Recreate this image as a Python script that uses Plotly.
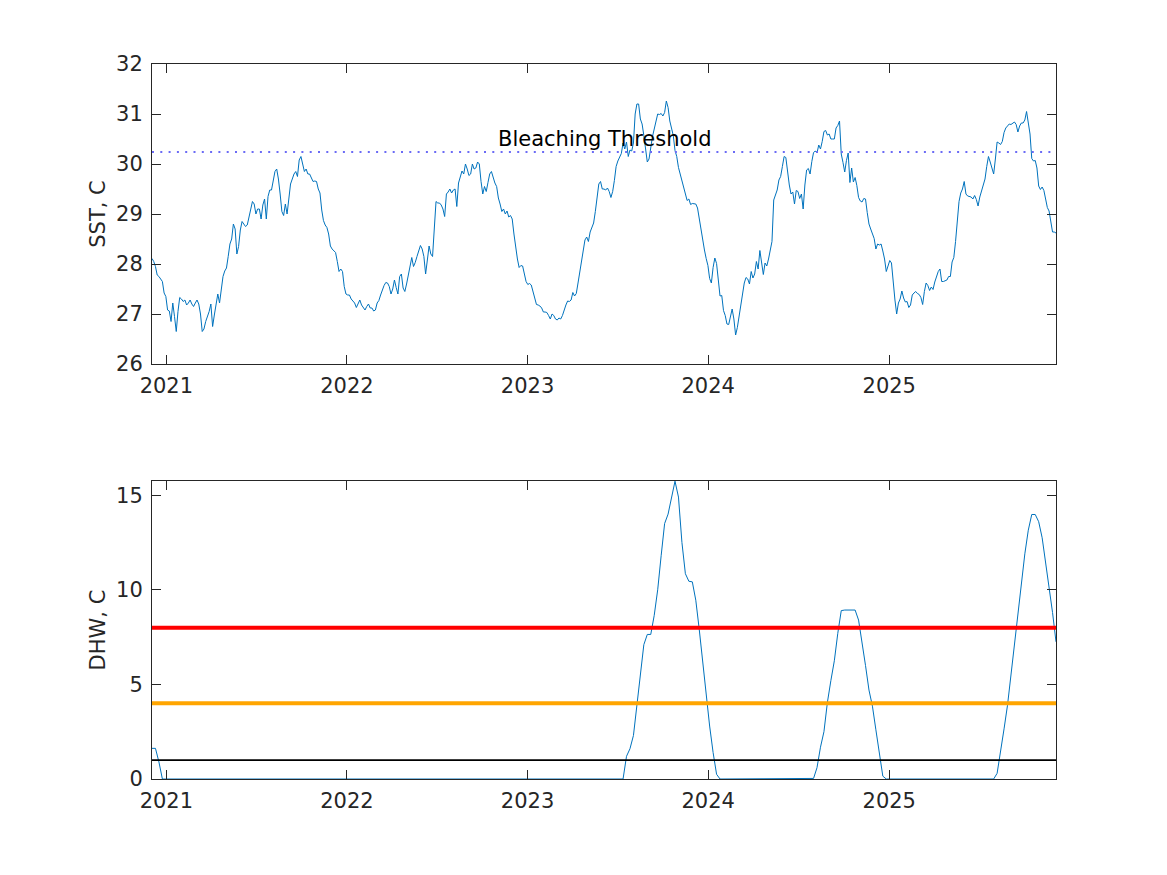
import numpy as np
import pandas as pd
import plotly.graph_objects as go

# ---------------- data ----------------
start_date = "2020-12-03"
sst_step_days = 3.5      # SST sampled twice a week
dhw_step_days = 7        # DHW sampled weekly

sst = [
    28.11, 28.05, 27.95, 27.78, 27.75, 27.7, 27.65, 27.42, 27.35, 27.08,
    27.06, 26.85, 27.22, 26.95, 26.65, 27.05, 27.33, 27.3, 27.25, 27.28,
    27.18, 27.22, 27.28, 27.2, 27.15, 27.22, 27.28, 27.2, 27.0, 26.65,
    26.7, 26.85, 26.95, 27.05, 27.2, 26.75, 26.98, 27.2, 27.4, 27.22,
    27.45, 27.75, 27.86, 27.92, 28.15, 28.4, 28.5, 28.8, 28.7, 28.2,
    28.35, 28.68, 28.85, 28.8, 28.75, 28.78, 28.95, 29.1, 29.25, 29.2,
    29.0, 29.1, 29.1, 28.9, 29.18, 29.3, 28.9, 29.35, 29.48, 29.48,
    29.68, 29.85, 29.9, 29.7, 29.4, 29.05, 28.97, 29.2, 29.0, 29.3,
    29.6, 29.7, 29.8, 29.85, 29.75, 30.08, 30.15, 30.0, 29.85, 29.9,
    29.8, 29.8, 29.72, 29.65, 29.66, 29.65, 29.5, 29.42, 29.08, 28.87,
    28.78, 28.73, 28.6, 28.36, 28.3, 28.27, 28.23, 28.05, 27.85, 27.9,
    27.85, 27.55, 27.4, 27.38, 27.38, 27.3, 27.25, 27.22, 27.13, 27.2,
    27.28, 27.18, 27.13, 27.08, 27.15, 27.2, 27.12, 27.12, 27.06, 27.08,
    27.22, 27.27, 27.38, 27.5, 27.57, 27.63, 27.62, 27.55, 27.4, 27.5,
    27.68, 27.53, 27.4, 27.75, 27.8, 27.52, 27.45, 27.6, 27.8, 28.0,
    28.13, 27.95, 28.03, 28.15, 28.25, 28.37, 28.3, 28.15, 27.8, 28.15,
    28.36, 28.2, 28.15, 28.7, 29.25, 29.22, 29.22, 29.18, 29.1, 28.95,
    29.4, 29.44, 29.5, 29.42, 29.48, 29.5, 29.15, 29.62, 29.77, 29.86,
    29.8, 30.0, 29.9, 29.77, 29.8, 30.0, 29.9, 29.92, 30.04, 30.0,
    29.65, 29.4, 29.55, 29.45, 29.63, 29.8, 29.85, 29.72, 29.62, 29.55,
    29.32, 29.2, 29.05, 29.1, 29.0, 29.06, 28.94, 28.97, 28.9, 28.6,
    28.32, 28.1, 27.93, 27.97, 27.96, 27.78, 27.65, 27.59, 27.61, 27.58,
    27.45, 27.32, 27.19, 27.18, 27.16, 27.12, 27.04, 27.04, 27.03, 26.97,
    26.9, 27.0, 26.97, 26.9, 26.88, 26.92, 26.9, 26.97, 27.1, 27.18,
    27.26, 27.25, 27.28, 27.43, 27.36, 27.41, 27.62, 27.86, 28.05, 28.27,
    28.48, 28.54, 28.45, 28.64, 28.73, 28.82, 29.05, 29.4, 29.6, 29.65,
    29.5, 29.5, 29.48, 29.52, 29.45, 29.33, 29.45, 29.67, 29.95, 30.06,
    30.14, 30.21, 30.42, 30.3, 30.44, 30.15, 30.28, 30.26, 30.42, 31.0,
    31.2, 31.2, 30.9, 30.8, 30.57, 30.25, 30.04, 30.1, 30.35, 30.55,
    30.7, 30.88, 31.0, 30.99, 31.01, 30.96, 31.03, 31.26, 31.13, 30.86,
    30.72, 30.57, 30.27, 30.15, 29.93, 29.79, 29.63, 29.51, 29.36, 29.27,
    29.3, 29.19, 29.21, 29.2, 29.2, 29.12, 28.89, 28.72, 28.53, 28.28,
    28.11, 27.97, 27.71, 27.62, 27.93, 28.12, 28.01, 27.72, 27.36, 27.37,
    27.07, 26.97, 26.8, 26.79, 26.98, 27.1, 26.9, 26.58, 26.73, 26.97,
    27.24, 27.43, 27.62, 27.73, 27.7, 27.6, 27.85, 27.72, 27.8, 28.05,
    27.9, 28.27, 28.02, 27.79, 28.02, 27.96, 28.1, 28.3, 28.45, 29.28,
    29.4, 29.48, 29.68, 29.75, 29.95, 30.15, 30.13, 29.8, 29.58, 29.4,
    29.44, 29.2, 29.47, 29.45, 29.31, 29.4, 29.1, 29.58, 29.88, 29.91,
    29.8, 30.05, 30.23, 30.26, 30.22, 30.38, 30.3, 30.45, 30.65, 30.67,
    30.58, 30.6, 30.5, 30.5, 30.5, 30.72, 30.77, 30.86, 30.2, 30.03,
    29.84, 30.07, 30.22, 29.63, 29.92, 29.64, 29.73, 29.57, 29.33, 29.26,
    29.24, 29.31, 29.3, 29.03, 28.8, 28.7, 28.61, 28.51, 28.3, 28.4,
    28.38, 28.4, 28.26, 28.1, 27.85, 27.94, 28.07, 28.02, 27.56, 27.28,
    27.0, 27.22, 27.3, 27.46, 27.32, 27.24, 27.25, 27.13, 27.18, 27.38,
    27.42, 27.45, 27.41, 27.39, 27.33, 27.19, 27.45, 27.62, 27.57, 27.47,
    27.54, 27.49, 27.64, 27.75, 27.85, 27.9, 27.65, 27.65, 27.67, 27.68,
    27.75, 27.75, 28.04, 28.13, 28.45, 28.95, 29.25, 29.42, 29.5, 29.65,
    29.4, 29.36, 29.35, 29.34, 29.3, 29.37, 29.29, 29.16, 29.34, 29.48,
    29.62, 29.7, 29.95, 30.15, 30.04, 29.93, 29.8, 30.1, 30.44, 30.42,
    30.39, 30.45, 30.63, 30.72, 30.76, 30.8, 30.79, 30.81, 30.84, 30.79,
    30.64, 30.76, 30.82, 30.82, 30.88, 31.05, 30.8, 30.6, 30.11, 30.06,
    30.07, 29.92, 29.56, 29.49, 29.54, 29.47, 29.3, 29.13, 29.06, 28.8,
    28.64, 28.64, 28.62,
]

dhw = [
    1.62, 1.62, 0.9, 0, 0, 0, 0, 0, 0, 0,
    0, 0, 0, 0, 0, 0, 0, 0, 0, 0,
    0, 0, 0, 0, 0, 0, 0, 0, 0, 0,
    0, 0, 0, 0, 0, 0, 0, 0, 0, 0,
    0, 0, 0, 0, 0, 0, 0, 0, 0, 0,
    0, 0, 0, 0, 0, 0, 0, 0, 0, 0,
    0, 0, 0, 0, 0, 0, 0, 0, 0, 0,
    0, 0, 0, 0, 0, 0, 0, 0, 0, 0,
    0, 0, 0, 0, 0, 0, 0, 0, 0, 0,
    0, 0, 0, 0, 0, 0, 0, 0, 0, 0,
    0, 0, 0, 0, 0, 0, 0, 0, 0, 0,
    0, 0, 0, 0, 0, 0, 0, 0, 0, 0,
    0, 0, 0, 0, 0, 0, 0, 0, 0, 0,
    0, 0, 0, 0, 0, 0, 0, 1.2, 1.6, 2.3,
    3.9, 5.7, 7.1, 7.64, 7.64, 8.65, 10.0, 11.8, 13.5, 14.0,
    14.85, 15.74, 14.9, 12.5, 10.85, 10.45, 10.42, 9.45, 7.9, 6.2,
    4.35, 2.8, 1.4, 0.25, 0, 0, 0, 0, 0, 0,
    0, 0, 0, 0, 0, 0, 0, 0, 0, 0,
    0, 0, 0, 0, 0, 0, 0, 0, 0, 0,
    0, 0.03, 0.6, 1.68, 2.5, 4.05, 5.2, 6.25, 7.7, 8.9,
    8.93, 8.93, 8.93, 8.93, 8.4, 7.25, 6.0, 4.7, 3.85, 2.6,
    1.3, 0.15, 0, 0, 0, 0, 0, 0, 0, 0,
    0, 0, 0, 0, 0, 0, 0, 0, 0, 0,
    0, 0, 0, 0, 0, 0, 0, 0, 0, 0,
    0, 0, 0, 0, 0.3, 1.4, 2.65, 3.9, 5.5, 7.1,
    8.7, 10.4, 11.9, 13.15, 13.98, 13.98, 13.6, 12.75, 11.45, 10.15,
    8.8, 7.25,
]

bleaching_threshold = 30.24
dhw_levels = [1, 4, 8]
dhw_level_colors = ["#000000", "#FFA500", "#FF0000"]
dhw_level_widths = [1.8, 4, 4]

year_ticks = ["2021-01-01", "2022-01-01", "2023-01-01", "2024-01-01", "2025-01-01"]
year_labels = ["2021", "2022", "2023", "2024", "2025"]
sst_ticks = [26, 27, 28, 29, 30, 31, 32]
dhw_ticks = [0, 5, 10, 15]
label_date = "2022-11-01"

# ---------------- figure ----------------
t0 = pd.Timestamp(start_date)
sst_dates = t0 + pd.to_timedelta(np.arange(len(sst)) * sst_step_days * 24, unit="h")
dhw_dates = t0 + pd.to_timedelta(np.arange(len(dhw)) * dhw_step_days, unit="D")
x_ends = [sst_dates[0], sst_dates[-1]]

LINE_BLUE = "#0072BD"
AX = "#262626"
FONT = "DejaVu Sans"
FS = 21

fig = go.Figure()

fig.add_trace(go.Scatter(x=sst_dates, y=sst, mode="lines",
                         line=dict(color=LINE_BLUE, width=1),
                         xaxis="x", yaxis="y", showlegend=False, hoverinfo="skip"))
fig.add_trace(go.Scatter(x=x_ends, y=[bleaching_threshold] * 2, mode="lines",
                         line=dict(color="#6B6BF5", width=2, dash="2px,6.3px"),
                         xaxis="x", yaxis="y", showlegend=False, hoverinfo="skip"))

fig.add_trace(go.Scatter(x=dhw_dates, y=dhw, mode="lines",
                         line=dict(color=LINE_BLUE, width=1),
                         xaxis="x2", yaxis="y2", showlegend=False, hoverinfo="skip"))
for lvl, col, w in zip(dhw_levels, dhw_level_colors, dhw_level_widths):
    fig.add_trace(go.Scatter(x=x_ends, y=[lvl, lvl], mode="lines",
                             line=dict(color=col, width=w),
                             xaxis="x2", yaxis="y2", showlegend=False, hoverinfo="skip"))

# page body has an 8px margin, so the figure is offset accordingly
W, H = 1151, 859
ml, mt = 144, 56
plot_w, plot_bottom = 904, 771
mr = W - ml - plot_w
mb = H - plot_bottom
ph = H - mt - mb
top_dom = [(779 - 364) / ph, 1.0]
bot_dom = [0.0, (779 - 481) / ph]

common = dict(showline=True, mirror="ticks", linecolor=AX, linewidth=1,
              ticks="inside", ticklen=9, tickcolor=AX, tickwidth=1,
              showgrid=False, zeroline=False,
              tickfont=dict(family=FONT, size=FS, color=AX))

xcommon = dict(type="date", range=x_ends, tickmode="array",
               tickvals=year_ticks, ticktext=year_labels, ticklabelstandoff=3, **common)

fig.update_layout(
    width=W, height=H,
    margin=dict(l=ml, r=mr, t=mt, b=mb, autoexpand=False),
    paper_bgcolor="white", plot_bgcolor="white",
    font=dict(family=FONT, size=FS, color=AX),
    xaxis=dict(domain=[0, 1], anchor="y", **xcommon),
    yaxis=dict(domain=top_dom, anchor="x", range=[26, 32],
               tickmode="array", tickvals=sst_ticks, ticklabelstandoff=4,
               title=dict(text="SST, C", font=dict(family=FONT, size=FS, color=AX), standoff=4),
               **common),
    xaxis2=dict(domain=[0, 1], anchor="y2", **xcommon),
    yaxis2=dict(domain=bot_dom, anchor="x2", range=[0, 15.75],
                tickmode="array", tickvals=dhw_ticks, ticklabelstandoff=4,
                title=dict(text="DHW, C", font=dict(family=FONT, size=FS, color=AX), standoff=4),
                **common),
    annotations=[dict(x=label_date, y=bleaching_threshold, xref="x", yref="y",
                      text="Bleaching Threshold", showarrow=False,
                      xanchor="left", yanchor="bottom", borderpad=0,
                      font=dict(family=FONT, size=FS, color="#000000"))],
)

fig.write_html("out.html")
